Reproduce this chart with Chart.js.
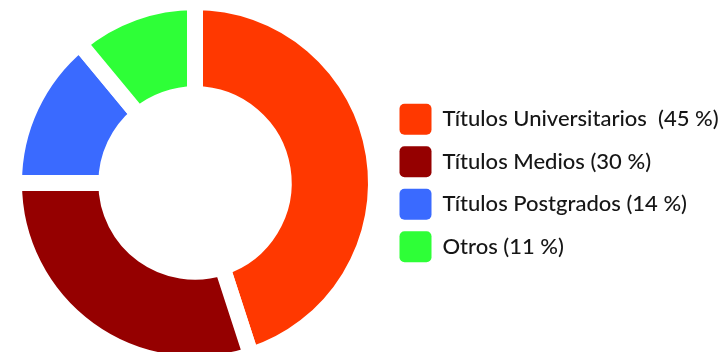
<!DOCTYPE html>
<html>
<head>
<meta charset="utf-8">
<script src="https://cdn.jsdelivr.net/npm/chart.js@4/dist/chart.umd.min.js"></script>
<style>
  html, body { margin: 0; padding: 0; background: #fff; overflow: hidden; width: 724px; height: 352px; }
  #wrap { position: relative; width: 724px; height: 352px; }
  #c { position: absolute; left: 0; top: -6px; }
</style>
</head>
<body>
<div id="wrap"><canvas id="c" width="724" height="378"></canvas></div>
<script>
// Distribución por tipo de titulación (%)
const categories = ['Títulos Universitarios', 'Títulos Medios', 'Títulos Postgrados', 'Otros'];
const shares = [45, 30, 14, 11];
const separators = ['  ', ' ', ' ', ' '];
const colors = ['#ff3800', '#950000', '#3a6aff', '#2eff37'];

const legendLabels = categories.map((c, i) => c + separators[i] + '(' + shares[i] + ' %)');

const baseLabels = Chart.overrides.doughnut.plugins.legend.labels.generateLabels;

new Chart(document.getElementById('c'), {
  type: 'doughnut',
  data: {
    labels: legendLabels,
    datasets: [{
      data: shares,
      backgroundColor: colors,
      borderColor: '#ffffff',
      borderWidth: 16,
      borderJoinStyle: 'miter',
      hoverOffset: 0,
      hoverBorderWidth: 16
    }]
  },
  options: {
    responsive: false,
    animation: false,
    cutout: '49%',
    layout: { padding: { left: 2, right: 0, top: 0, bottom: 0 } },
    plugins: {
      tooltip: { enabled: false },
      legend: {
        position: 'right',
        align: 'center',
        maxWidth: 336,
        labels: {
          boxWidth: 32,
          boxHeight: 31,
          padding: 11.5,
          color: '#161616',
          font: { family: 'Lato', size: 22, weight: 500 },
          useBorderRadius: true,
          borderRadius: 5,
          generateLabels(chart) {
            return baseLabels(chart).map(item => Object.assign(item, { lineWidth: 0, strokeStyle: 'rgba(0,0,0,0)' }));
          }
        }
      }
    }
  }
});
</script>
</body>
</html>
